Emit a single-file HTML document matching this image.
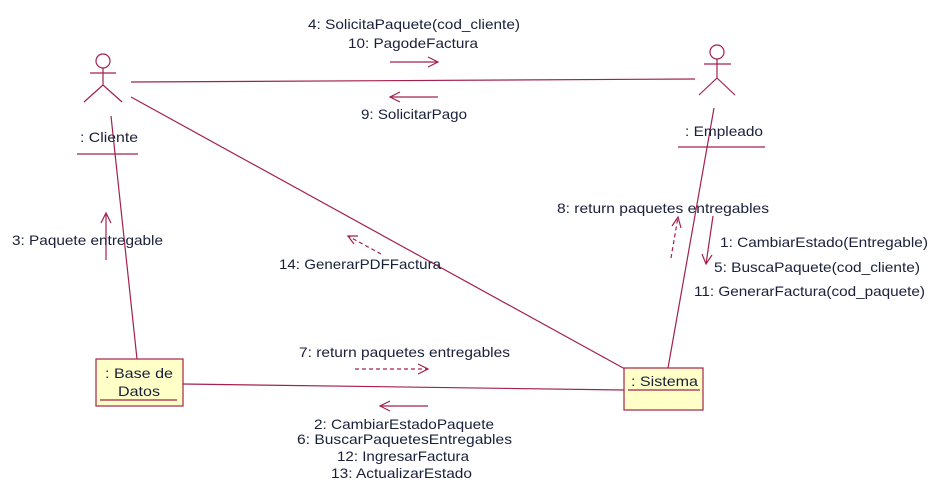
<!DOCTYPE html>
<html><head><meta charset="utf-8"><style>
html,body{margin:0;padding:0;background:#fff;}
svg{display:block;}
text{font-family:"Liberation Sans",Arial,sans-serif;font-size:14px;fill:#1a1f3a;}
</style></head><body>
<svg width="936" height="499" viewBox="0 0 936 499" xmlns="http://www.w3.org/2000/svg">
<g stroke="#a3214d" stroke-width="1.2" fill="none">
<circle cx="103" cy="61" r="7"/>
<line x1="90" y1="73" x2="116" y2="73"/>
<line x1="103" y1="68" x2="103" y2="85"/>
<line x1="103" y1="85" x2="84" y2="102"/>
<line x1="103" y1="85" x2="122" y2="102"/>
<line x1="77" y1="154" x2="138" y2="154"/>
<circle cx="717" cy="52" r="7"/>
<line x1="704" y1="64" x2="731" y2="64"/>
<line x1="717" y1="59" x2="717" y2="78"/>
<line x1="717" y1="78" x2="699" y2="95"/>
<line x1="717" y1="78" x2="735" y2="95"/>
<line x1="678" y1="147" x2="765" y2="147"/>
<line x1="131" y1="82" x2="695" y2="79"/>
<line x1="131" y1="97" x2="625" y2="369"/>
<line x1="111" y1="116" x2="137" y2="359"/>
<line x1="714" y1="108" x2="668" y2="368"/>
<line x1="183" y1="384" x2="624" y2="390"/>
<rect x="96" y="359" width="87" height="47" fill="#ffffc8"/>
<line x1="100" y1="400" x2="177" y2="400"/>
<rect x="624" y="368" width="79" height="42" fill="#ffffc8"/>
<line x1="628" y1="390" x2="700" y2="390"/>
<line x1="390" y1="62" x2="438" y2="62"/><polyline points="428,57 438,62 428,67"/>
<line x1="390" y1="97" x2="438" y2="97"/><polyline points="400,92 390,97 400,102"/>
<line x1="355" y1="369" x2="428" y2="369" stroke-dasharray="4,3"/><polyline points="418,364 428,369 418,374"/>
<line x1="380" y1="406" x2="428" y2="406"/><polyline points="390,401 380,406 390,411"/>
<line x1="106" y1="260" x2="106" y2="213"/><polyline points="101,223 106,213 111,223"/>
<line x1="671" y1="258" x2="678" y2="217" stroke-dasharray="4,3"/><polyline points="672,226 678,217 681,228"/>
<line x1="713" y1="216" x2="706" y2="264"/><polyline points="702,254 706,264 712,255"/>
<line x1="381" y1="254" x2="348" y2="236" stroke-dasharray="4,3"/><polyline points="358,236 348,236 354,244"/>
</g>
<g>
<text x="80" y="142" textLength="58" lengthAdjust="spacingAndGlyphs">: Cliente</text>
<text x="685" y="136" textLength="78" lengthAdjust="spacingAndGlyphs">: Empleado</text>
<text x="105" y="378" textLength="68" lengthAdjust="spacingAndGlyphs">: Base de</text>
<text x="118" y="396" textLength="42" lengthAdjust="spacingAndGlyphs">Datos</text>
<text x="631" y="386" textLength="67" lengthAdjust="spacingAndGlyphs">: Sistema</text>
<text x="308" y="29" textLength="212" lengthAdjust="spacingAndGlyphs">4: SolicitaPaquete(cod_cliente)</text>
<text x="348" y="48" textLength="130" lengthAdjust="spacingAndGlyphs">10: PagodeFactura</text>
<text x="361" y="119" textLength="106" lengthAdjust="spacingAndGlyphs">9: SolicitarPago</text>
<text x="12" y="245" textLength="151" lengthAdjust="spacingAndGlyphs">3: Paquete entregable</text>
<text x="279" y="269" textLength="162" lengthAdjust="spacingAndGlyphs">14: GenerarPDFFactura</text>
<text x="557" y="213" textLength="212" lengthAdjust="spacingAndGlyphs">8: return paquetes entregables</text>
<text x="720" y="247" textLength="208" lengthAdjust="spacingAndGlyphs">1: CambiarEstado(Entregable)</text>
<text x="714" y="272" textLength="206" lengthAdjust="spacingAndGlyphs">5: BuscaPaquete(cod_cliente)</text>
<text x="694" y="296" textLength="231" lengthAdjust="spacingAndGlyphs">11: GenerarFactura(cod_paquete)</text>
<text x="299" y="357" textLength="211" lengthAdjust="spacingAndGlyphs">7: return paquetes entregables</text>
<text x="314" y="429" textLength="180" lengthAdjust="spacingAndGlyphs">2: CambiarEstadoPaquete</text>
<text x="297" y="444" textLength="215" lengthAdjust="spacingAndGlyphs">6: BuscarPaquetesEntregables</text>
<text x="337" y="461" textLength="132" lengthAdjust="spacingAndGlyphs">12: IngresarFactura</text>
<text x="331" y="478" textLength="141" lengthAdjust="spacingAndGlyphs">13: ActualizarEstado</text>
</g>
</svg>
</body></html>
